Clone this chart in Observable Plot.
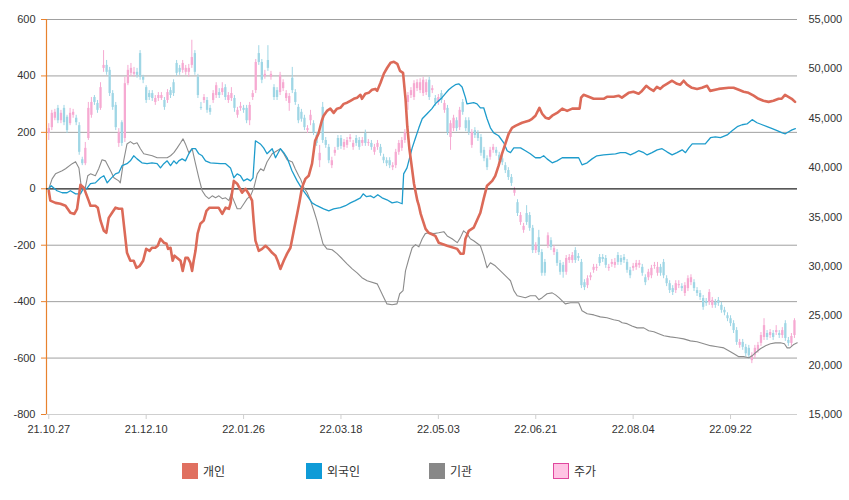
<!DOCTYPE html>
<html>
<head>
<meta charset="utf-8">
<script src="https://cdn.jsdelivr.net/npm/d3@7"></script>
<script src="https://cdn.jsdelivr.net/npm/@observablehq/plot@0.6"></script>
<style>
  body { margin: 0; background: #fff; }
  #wrap { position: relative; width: 849px; height: 445px; }
  #wrap > svg { position: absolute; left: 0; top: 0; }
  #legend { position: relative; width: 849px; height: 55px; font-family: "Noto Sans CJK KR", sans-serif; font-size: 12px; color: #333; }
  .item { position: absolute; top: 17px; display: flex; align-items: center; }
  .sw { width: 16px; height: 16px; margin-right: 5px; box-sizing: border-box; }
</style>
</head>
<body>
<div id="wrap"></div>
<div id="legend"></div>
<script>
// ---- data ----
const tickIdx = [0, 32, 64, 96, 128, 160, 192, 224];
const tickLabels = ["21.10.27", "21.12.10", "22.01.26", "22.03.18", "22.05.03", "22.06.21", "22.08.04", "22.09.22"];
const leftTicks = [600, 400, 200, 0, -200, -400, -600, -800];
const priceTicks = [15000, 20000, 25000, 30000, 35000, 40000, 45000, 50000, 55000];
const seriesNames = ["개인", "외국인", "기관", "주가"];

// daily candles (index = trading day)
const candleOpen = [
43450,44050,45000,46000,44750,46000,45100,44450,45300,45000,
44250,40800,40400,42950,45300,47100,46500,46000,50050,50350,
49850,47500,46300,42450,44550,42950,48500,49550,49450,49650,
51550,49150,48100,47500,47500,46600,47000,47000,46800,46800,
47800,48600,50550,50050,49850,49650,49650,50350,51550,49150,
46100,46800,46800,46000,46800,47300,47600,47600,48100,46800,
47000,47000,45300,46000,46000,46000,44750,47100,47800,51550,
50650,49250,50850,49150,48100,47800,47600,48000,47000,46500,
49050,47600,46100,45600,45000,43750,44750,44450,43250,40700,
46100,42750,42050,40200,41450,42950,42950,42050,42250,42850,
42050,42950,42750,42450,43450,42450,42450,41550,42050,42050,
41050,40700,40700,40000,40200,41550,41950,42750,46600,47300,
47100,48000,47800,47500,47600,48850,47800,47000,46600,47500,
45800,46000,43050,43950,44750,44050,46600,44750,44750,42250,
43750,43450,43050,41750,40900,41050,41750,41750,41250,40900,
40200,39700,39000,37400,36450,34450,33650,35350,35150,33850,
31600,32900,31400,30400,32100,32600,31400,31400,30300,30100,
29400,30600,30600,31600,31000,30400,28350,28050,28850,29600,
29800,30900,30900,30800,29800,30200,30100,31100,30800,30900,
30400,29600,29800,29900,30100,29900,28850,28850,29050,30000,
29300,29900,30400,28750,28250,27750,27550,28050,27950,27250,
27750,28350,28350,27550,27250,26750,26450,26350,26050,26350,
26550,26050,25550,25000,24700,24200,23500,22000,22300,21800,
21700,20450,20950,21500,22200,22800,23200,23000,23200,23300,
23200,23000,24200,22500,22200,23000];
const candleClose = [
43950,45500,45600,44750,45500,44550,43750,45500,45600,44550,
41550,40400,41950,46000,46600,46600,45800,48100,50350,49650,
47500,46100,44050,43550,42450,48500,49850,50050,49650,49350,
49150,48850,46800,47100,47000,47000,47300,47300,46100,47600,
47300,47500,49550,49650,50550,50050,50050,51150,49650,47300,
46000,47100,45800,45600,47500,48300,47300,48000,47100,47300,
47500,46000,45800,46200,45800,44750,46300,47500,50650,50650,
48850,49450,50050,49450,47100,47100,49350,48600,47500,47200,
47800,46600,44750,44900,44050,43950,45300,43550,42450,41450,
42750,42250,40700,40700,41750,42050,42150,42550,42750,43050,
42450,42450,42050,42750,42450,42550,42050,42050,42450,41450,
40700,40400,40200,40200,41550,42450,42750,43550,47300,47800,
48500,48600,48600,48850,48600,47100,48000,46500,47100,46800,
46500,43550,44450,45000,43950,45800,45600,43950,43550,43550,
43250,42950,41450,40900,40000,41750,42050,41450,40700,40500,
39700,39000,38400,37700,35350,35150,34050,34450,33850,31600,
32100,31400,29300,29300,33100,31900,31800,30300,29400,29400,
30800,30900,31100,30600,30800,28050,27850,28750,29050,29900,
29900,30300,30700,30100,29900,30400,30400,30400,30400,30600,
29600,29050,30000,30300,30300,29300,28350,29400,29800,30100,
29900,29300,29050,28250,27550,27350,28250,28150,27750,28050,
28750,28850,27750,27250,26850,25850,26250,27350,26550,26050,
26250,25550,25300,24700,24200,23500,22300,22300,21800,21150,
20950,20950,21700,22000,23000,24000,22800,23300,22800,23500,
23000,23500,22700,22200,22900,24500];
const candleHigh = [
44450,45800,45900,46300,45800,46300,45300,46000,45900,45300,
44550,41050,42550,46600,47100,47300,46800,48600,51850,50850,
50150,47800,46600,43950,44750,49150,50350,50550,50150,50050,
51850,49350,48300,47800,47800,47300,47600,47600,47100,47900,
48100,48900,50850,50350,50850,50350,50450,52900,51850,49450,
46600,47400,47100,46300,47800,48600,48000,48600,48400,47600,
48100,47300,46100,46600,46300,46300,46600,47800,50950,52350,
50950,49850,52350,49750,48400,48100,49650,48900,47800,47500,
50150,47900,46400,45900,45300,44250,45800,44750,43550,42250,
46600,43050,42350,41050,42050,43250,43250,42850,43050,43350,
42750,43250,43050,43050,43800,42850,42750,42350,42750,42350,
41350,41000,41000,40500,41850,42750,43050,43850,47600,48100,
48800,48900,49000,49150,48900,49150,48300,47300,47400,47800,
46800,46300,44750,45300,45050,46100,46900,45050,45050,43850,
44050,43750,43350,42050,41200,42050,42350,42050,41550,41200,
40500,40000,39300,38000,36750,35450,34350,36150,35450,34150,
32400,33650,31700,30700,33400,32900,32100,31700,30600,30400,
31100,31200,31400,31900,31300,30700,28650,29050,29350,30200,
30200,31200,31200,31100,30200,30700,30800,31400,31100,31200,
30700,29900,30300,30600,30600,30200,29150,29700,30100,30400,
30400,30200,30700,29050,28550,28050,28550,28550,28250,28350,
29050,29150,28650,27850,27550,27050,26750,27650,26850,26650,
26850,26350,25850,25300,25000,24500,23800,22600,22600,22100,
22000,21250,22000,22300,23300,24700,23500,23600,23500,24000,
23500,23800,24500,22800,23200,24700];
const candleLow = [
42750,43750,44750,44450,44450,44250,43450,44250,45000,44250,
41250,40200,40200,42750,45000,46300,45500,45800,49650,49350,
47200,45800,43750,42050,42150,42550,48300,49250,49150,49050,
48850,48500,46500,46800,46700,46300,46700,46800,45800,46500,
47000,47200,49250,49350,49550,49350,49150,50050,49350,47000,
45800,46500,45500,45300,46500,47000,47000,47300,46800,46500,
46700,45600,45000,45700,45500,44450,44250,46800,47500,50350,
48500,48950,49750,48850,46800,46800,47300,47700,46700,45700,
47500,46300,44450,44600,43750,43450,44250,43250,42150,40000,
42450,41950,40400,39900,41150,41750,41850,41750,41950,42550,
41750,42150,41750,42150,42150,42150,41750,41250,41750,41150,
40400,40100,39900,39700,39900,41250,41650,42450,45800,47000,
46800,47700,47500,47200,47300,46800,47500,46200,46300,46500,
45500,43250,41750,43650,43650,43750,45300,43650,43250,41950,
42950,42650,41150,40600,39700,40750,41450,41150,40400,40200,
39400,38700,38100,37100,35050,34150,33350,34150,33550,31300,
31300,31100,29000,29000,31800,31600,31100,30000,29100,28800,
29100,30300,30300,30300,30500,27750,27550,27750,28550,29300,
29500,30000,30400,29800,29500,29900,29800,30100,30100,30300,
29300,28750,29500,29600,29800,29000,28050,28550,28750,29700,
29000,29000,28750,27950,27250,27050,27250,27750,27450,26950,
27450,28050,27450,26950,26550,25550,25950,26050,25750,25750,
25950,25250,25000,24400,23900,23200,22000,21700,21500,20850,
20650,20150,20650,21200,21900,22500,22500,22700,22500,23000,
22700,22700,22400,21900,21900,22700];

// net-buying lines: [trading-day position, value]
const indiv = [[0,-7],[0.5,-42],[2.2,-50],[3.8,-53],[5.5,-60],[7.1,-85],[8.4,-89],[9.3,-71],[10.4,14],[11.5,4],[13.1,-42],[13.7,-60],[15.3,-60],[16.1,-67],[17,-113],[18.1,-149],[18.9,-156],[19.7,-103],[20.8,-85],[21.9,-67],[23,-71],[24.1,-71],[24.9,-149],[25.7,-227],[26.8,-255],[27.9,-255],[28.8,-280],[29.9,-273],[31,-255],[32,-213],[33.1,-220],[33.9,-209],[35,-209],[35.8,-202],[36.7,-177],[37.8,-191],[38.7,-195],[39.2,-213],[40,-209],[40.7,-255],[41.3,-237],[42.2,-245],[43.3,-255],[44,-291],[44.9,-245],[45.7,-245],[46.5,-262],[47.1,-291],[47.6,-255],[48.2,-220],[48.9,-159],[49.8,-124],[50.9,-113],[51.8,-78],[52.8,-67],[54.2,-67],[55.8,-67],[57,-89],[58.1,-67],[59.2,-71],[59.7,-53],[60.8,28],[61.9,18],[63.5,-14],[64.6,0],[65.7,-18],[66.8,-42],[67.3,-113],[67.9,-184],[69,-220],[70.1,-213],[71.2,-202],[72.3,-213],[73.4,-227],[74.5,-237],[75.2,-255],[76.1,-284],[77.2,-255],[78.3,-230],[79.4,-209],[80.5,-149],[81.6,-89],[82.4,-45],[83.2,4],[84.3,35],[85.4,46],[86.5,89],[87.5,170],[88.6,195],[89.7,241],[90.3,259],[91.4,276],[92.5,284],[93.6,269],[94.7,284],[95.8,287],[96.9,301],[98,305],[99.1,312],[100.2,319],[101.3,323],[102.4,333],[102.9,319],[104,337],[105.1,340],[106.2,351],[107.3,354],[107.9,347],[109,376],[110.1,408],[111.2,429],[112.3,447],[113.4,450],[114.5,443],[115.4,418],[116.4,411],[117.2,320],[117.8,220],[118.5,140],[119,100],[120,18],[121.1,-42],[121.6,-60],[122.2,-89],[122.7,-106],[123.8,-142],[124.8,-156],[127,-167],[128.1,-191],[130.9,-202],[134.2,-213],[135.3,-230],[136.3,-230],[136.9,-177],[138,-149],[139.6,-138],[141.8,-85],[142.9,-35],[144,11],[145.7,28],[146.7,46],[147.8,82],[148.9,124],[150,159],[151.1,195],[152.2,216],[153.3,223],[155.5,234],[157.7,241],[158.8,248],[159.9,259],[161.2,287],[162.1,266],[163.2,252],[164.3,248],[165.4,259],[167,269],[168.7,284],[170.3,276],[172,284],[173.6,284],[174.4,284],[174.9,323],[175.7,333],[177.4,326],[179,319],[182.3,319],[183.4,326],[185.6,326],[187.2,330],[188.3,323],[190.5,340],[192.1,344],[193.8,337],[194.9,347],[196.3,365],[197.6,354],[198.7,347],[199.8,361],[200.9,354],[202,365],[203.1,372],[204.8,383],[206.4,372],[207.5,369],[208.6,383],[209.7,369],[211.3,358],[213,354],[214.6,358],[216.3,365],[217.3,347],[220.1,354],[223.4,358],[225,358],[226.7,351],[228.3,344],[229.9,340],[231.6,330],[233.2,319],[234.8,312],[236.5,308],[238.1,312],[239.8,319],[240.8,319],[241.9,333],[243,326],[244.1,319],[245.2,308]];
const foreign = [[0,0],[0.8,11],[2.7,-7],[4.4,-14],[6,-14],[7.1,-7],[8.8,-18],[10.4,-18],[11.5,4],[12.4,0],[13.7,18],[15.3,21],[17,39],[18.1,46],[19.2,21],[20.3,35],[21.9,53],[23,57],[24.1,82],[25.7,89],[26.8,99],[27.9,117],[29,106],[30.6,92],[32.3,89],[33.9,92],[35.6,89],[36.7,74],[37.8,89],[38.9,99],[40,82],[41.1,99],[42,89],[42.7,99],[43.8,106],[44.9,99],[46,124],[47.1,142],[48.2,142],[49.3,124],[50.4,117],[51.5,99],[53.1,92],[56.4,89],[58.1,89],[59.7,74],[60.8,39],[61.9,53],[63,46],[64,28],[65.2,35],[66.3,28],[67.1,39],[67.9,170],[69.5,159],[70.6,145],[71.7,124],[73.4,142],[74.5,110],[76.1,142],[77.2,128],[78.3,110],[79.9,64],[81.6,28],[83.2,0],[84.9,-25],[86.5,-50],[88.1,-60],[90.3,-71],[92,-78],[93.6,-71],[95.8,-67],[97.5,-60],[99.1,-50],[100.7,-42],[102.4,-32],[103.3,-18],[104.4,-28],[105.7,-25],[106.8,-32],[108.1,-21],[109.5,-32],[111.1,-39],[112.8,-50],[114.4,-46],[116.1,-53],[116.6,53],[117.7,74],[119.4,145],[120.5,181],[121.6,216],[122.7,248],[124.3,266],[125.9,284],[127,301],[128.1,312],[129.2,323],[130.3,337],[131.4,351],[132.5,361],[133.6,369],[134.7,372],[135.8,361],[136.9,323],[137.4,301],[139.6,305],[140.7,301],[141.8,287],[142.9,287],[144,248],[145.1,216],[146.2,198],[147.8,188],[149.5,163],[150.6,135],[151.7,128],[152.8,145],[155,145],[156.6,135],[158.2,124],[159.9,110],[161.5,110],[162.6,117],[163.7,106],[165.4,92],[167,99],[168.7,110],[172,110],[174.1,110],[175.2,85],[176.9,92],[178.5,106],[180.1,117],[182.3,120],[186.2,124],[187.8,128],[189.5,128],[191.1,120],[192.7,128],[193.8,135],[195.5,128],[196.6,120],[198.2,128],[199.9,138],[201.5,142],[203.1,131],[204.8,120],[206.4,128],[208.1,138],[209.2,128],[210.3,145],[211.4,159],[213,159],[215.7,159],[217.4,181],[219,184],[220.7,181],[222.9,191],[224.5,206],[226.2,220],[227.8,227],[229.4,230],[231.1,245],[232.7,234],[234.4,227],[236,220],[237.7,213],[239.3,206],[241,198],[242,195],[243.1,202],[244.2,209],[245.3,213]];
const inst = [[0,0],[1.1,35],[2.2,53],[4.4,64],[5.5,71],[7.7,89],[8.8,96],[9.9,74],[10.7,4],[11.5,0],[12,4],[12.8,46],[13.7,53],[15.3,46],[16.4,71],[17.5,103],[18.6,99],[20.3,64],[21.4,39],[23,28],[23.5,21],[24.6,99],[25.7,159],[26.8,167],[27.9,159],[29,163],[30.1,142],[31.2,124],[34,117],[35.6,110],[38.9,110],[40,117],[41.1,128],[42.2,145],[43.3,163],[44.1,177],[44.9,159],[46,128],[47.1,142],[48.2,89],[49.3,39],[50.4,-7],[51.5,-25],[52.6,-35],[53.7,-25],[54.8,-32],[55.9,-25],[57,-35],[58.1,-32],[59.2,-42],[59.9,-18],[60.8,-42],[61.9,-71],[63,-71],[64.1,-53],[65.2,-35],[66.3,-25],[67.4,4],[68.5,53],[69.6,71],[70.6,64],[71.7,95],[73.4,124],[75,135],[76.1,142],[77.2,124],[78.3,103],[80,95],[81,70],[82.1,46],[82.7,35],[83.8,4],[84.9,-14],[86,-42],[87.1,-78],[88.1,-113],[89.2,-159],[90.1,-195],[91.4,-213],[93.1,-216],[94.7,-230],[96.4,-248],[98,-266],[99.7,-284],[101.3,-298],[102.9,-315],[104.6,-326],[107.9,-337],[109,-361],[110.1,-386],[111.1,-408],[112.8,-411],[114.4,-408],[115.3,-372],[116.4,-361],[117.2,-291],[118.3,-248],[119.4,-209],[120.5,-198],[121.6,-206],[122.7,-177],[123.7,-159],[124.8,-156],[126.5,-159],[128.1,-156],[129.8,-152],[130.9,-167],[132.5,-177],[134.2,-191],[135.2,-174],[136.3,-149],[137.4,-159],[138.5,-177],[139.6,-184],[141.8,-202],[142.9,-237],[144,-280],[145.1,-262],[146.7,-273],[148.4,-291],[150,-308],[151.7,-326],[152.8,-361],[153.9,-379],[156.6,-386],[158.2,-379],[159.9,-379],[161,-393],[162.1,-386],[163.7,-372],[165.4,-369],[166.5,-376],[167.6,-386],[168.7,-397],[169.7,-408],[171.4,-404],[173,-404],[174.1,-404],[175.2,-432],[176.9,-443],[179.1,-447],[181.2,-454],[183.4,-457],[185.6,-464],[187.3,-468],[188.4,-475],[190,-478],[191.6,-486],[193.3,-493],[195.5,-493],[197.1,-503],[198.8,-507],[200.4,-514],[202.1,-521],[204.2,-525],[206.4,-528],[208.6,-532],[210.8,-539],[213,-542],[215.2,-549],[217.4,-556],[219.6,-560],[221.8,-564],[223.4,-574],[225.1,-585],[226.7,-595],[228.3,-595],[230,-599],[231.1,-592],[232.2,-581],[233.8,-567],[235.5,-556],[237.1,-549],[238.7,-546],[240.4,-546],[241.7,-549],[242.6,-564],[243.5,-564],[244.6,-553],[245.9,-546]];

// ---- styles ----
const colors = {indiv: "#dc6a58", foreign: "#1e9ccc", inst: "#8c8c8c", up: "#f6aad2", down: "#9fd6e5"};
const legendFill = ["#e07060", "#0f9bd7", "#888888", "#ffc4e4"];
const legendStroke = ["none", "none", "none", "#e0479e"];
const xDomain = [-0.75, 246];

const common = {
  width: 849, height: 445,
  marginLeft: 46, marginRight: 52, marginTop: 19, marginBottom: 31,
  x: {domain: xDomain, axis: null},
  style: {fontSize: "11px", fontFamily: "'Liberation Sans', Arial, sans-serif", color: "#333", background: "transparent", overflow: "visible"}
};

const candles = candleOpen.map((o, i) => ({
  i, open: o, close: candleClose[i], high: candleHigh[i], low: candleLow[i],
  col: candleClose[i] >= o ? colors.up : colors.down
}));
const toRows = arr => arr.map(([i, v]) => ({i, v}));
const labMap = new Map(tickIdx.map((t, k) => [t, tickLabels[k]]));

// base layer: grid, axes
const base = Plot.plot({
  ...common,
  y: {domain: [-800, 600], axis: null},
  marks: [
    Plot.ruleY(leftTicks.filter(v => v !== 0 && v !== -800), {stroke: "#a0a0a0", strokeWidth: 1}),
    Plot.ruleY([-800], {stroke: "#cfcfcf"}),
    Plot.axisY({ticks: leftTicks, tickFormat: d => String(d), tickSize: 5, tickPadding: 6, stroke: "#e8822e", fill: "#333", label: null}),
    Plot.ruleX([xDomain[0]], {stroke: "#e8822e", strokeWidth: 1.2}),
    Plot.axisX({ticks: tickIdx, tickFormat: d => labMap.get(d), tickSize: 5, tickPadding: 6, stroke: "#cfcfcf", fill: "#333", label: null})
  ]
});
base.style.background = "#fff";

// candle layer with its own price scale
const price = Plot.plot({
  ...common,
  y: {domain: [15000, 55000], axis: null},
  marks: [
    Plot.ruleX(candles, {x: "i", y1: "low", y2: "high", stroke: "col", strokeWidth: 1}),
    Plot.ruleX(candles, {x: "i", y1: "open", y2: "close", stroke: "col", strokeWidth: 2.3}),
    Plot.axisY({anchor: "right", ticks: priceTicks, tickFormat: d3.format(","), tickSize: 0, tickPadding: 11, fill: "#333", label: null})
  ]
});

// zero line + net-buying lines on top
const lines = Plot.plot({
  ...common,
  y: {domain: [-800, 600], axis: null},
  marks: [
    Plot.ruleY([0], {stroke: "#222", strokeWidth: 1.2}),
    Plot.line(toRows(inst), {x: "i", y: "v", stroke: colors.inst, strokeWidth: 1.1}),
    Plot.line(toRows(foreign), {x: "i", y: "v", stroke: colors.foreign, strokeWidth: 1.3}),
    Plot.line(toRows(indiv), {x: "i", y: "v", stroke: colors.indiv, strokeWidth: 2.6})
  ]
});

const wrap = document.getElementById("wrap");
wrap.append(base, price, lines);

// legend
const legend = document.getElementById("legend");
const lefts = [182, 306, 429, 553];
seriesNames.forEach((name, k) => {
  const it = document.createElement("div");
  it.className = "item";
  it.style.left = lefts[k] + "px";
  const sw = document.createElement("div");
  sw.className = "sw";
  sw.style.background = legendFill[k];
  if (legendStroke[k] !== "none") sw.style.border = "1.5px solid " + legendStroke[k];
  const tx = document.createElement("span");
  tx.textContent = name;
  it.append(sw, tx);
  legend.append(it);
});
</script>
</body>
</html>
